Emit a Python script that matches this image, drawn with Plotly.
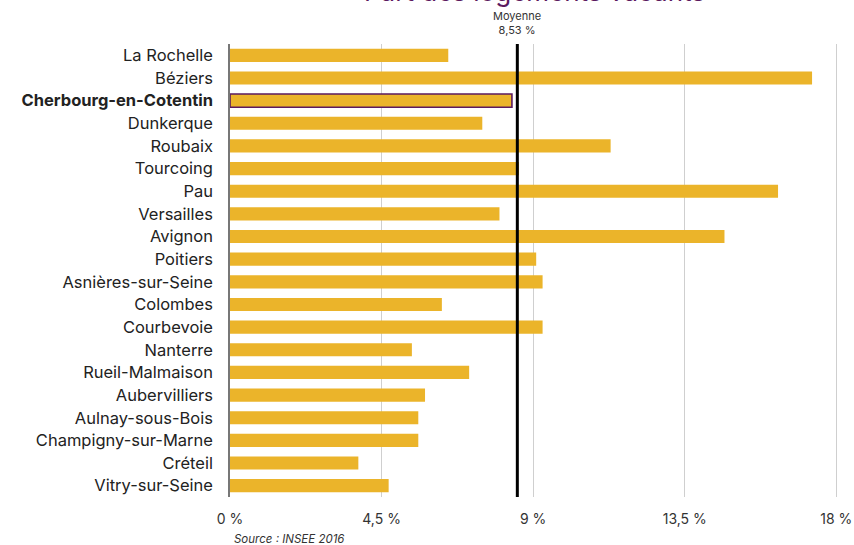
import plotly.graph_objects as go

# Share of vacant dwellings by city (INSEE 2016)
cities = [
    "La Rochelle", "Béziers", "Cherbourg-en-Cotentin", "Dunkerque", "Roubaix",
    "Tourcoing", "Pau", "Versailles", "Avignon", "Poitiers",
    "Asnières-sur-Seine", "Colombes", "Courbevoie", "Nanterre", "Rueil-Malmaison",
    "Aubervilliers", "Aulnay-sous-Bois", "Champigny-sur-Marne", "Créteil", "Vitry-sur-Seine",
]
vacancy_rate = [
    6.48, 17.28, 8.37, 7.49, 11.30,
    8.58, 16.27, 8.00, 14.68, 9.09,
    9.28, 6.29, 9.28, 5.40, 7.10,
    5.79, 5.59, 5.59, 3.81, 4.71,
]
highlight_city = "Cherbourg-en-Cotentin"
average_rate = 8.53

tick_values = [0, 4.5, 9, 13.5, 18]
tick_labels = ["0 %", "4,5 %", "9 %", "13,5 %", "18 %"]

W, H = 854, 545
M_L, M_R, M_T, M_B = 230, 16, 44, 48
FONT = "Inter"
GOLD = "#EBB42A"
PLUM = "#5B1A5F"


def py(pixel_y):
    """Convert a pixel row of the page to paper y."""
    return (H - M_B - pixel_y) / (H - M_T - M_B)


def px(pixel_x):
    """Convert a pixel column of the page to paper x."""
    return (pixel_x - M_L) / (W - M_L - M_R)


line_colors = [PLUM if c == highlight_city else GOLD for c in cities]
line_widths = [1.6 if c == highlight_city else 0 for c in cities]
y_text = [f"<b>{c}</b>" if c == highlight_city else c for c in cities]

fig = go.Figure(
    go.Bar(
        x=vacancy_rate,
        y=cities,
        orientation="h",
        width=0.58,
        marker=dict(color=GOLD, line=dict(color=line_colors, width=line_widths)),
        hoverinfo="skip",
    )
)

fig.add_shape(
    type="line", xref="x", yref="paper",
    x0=average_rate, x1=average_rate, y0=0, y1=1,
    line=dict(color="black", width=3),
)

fig.add_annotation(
    x=average_rate, xref="x", y=py(39), yref="paper",
    yanchor="bottom", xanchor="center", showarrow=False,
    text="Moyenne<br>8,53 %", align="center",
    font=dict(family=FONT, size=11, color="#333333"),
)
fig.add_annotation(
    x=px(534), xref="paper", y=py(9), yanchor="bottom", yref="paper",
    xanchor="center", showarrow=False,
    text="Part des logements vacants",
    font=dict(family=FONT, size=26, color=PLUM),
)
fig.add_annotation(
    x=px(232), xref="paper", xanchor="left", y=py(539), yref="paper",
    yanchor="middle", showarrow=False,
    text="<i>Source : INSEE 2016</i>",
    font=dict(family=FONT, size=11.5, color="#333333"),
)

fig.update_layout(
    width=W, height=H,
    margin=dict(l=M_L, r=M_R, t=M_T, b=M_B, pad=0, autoexpand=False),
    paper_bgcolor="white", plot_bgcolor="white",
    showlegend=False,
    font=dict(family=FONT, color="#222222"),
    bargap=0.42,
)
fig.update_xaxes(
    range=[0, 18.05], tickvals=tick_values, ticktext=tick_labels,
    automargin=False,
    showgrid=True, gridcolor="#CFCFCF", gridwidth=1,
    zeroline=False, showline=False,
    ticks="outside", ticklen=9, tickcolor="rgba(0,0,0,0)",
    tickfont=dict(family=FONT, size=14, color="#333333"),
)
fig.update_yaxes(
    autorange="reversed", tickvals=cities, ticktext=y_text,
    automargin=False,
    showgrid=False, showline=True, linecolor="#777777", linewidth=1.5,
    ticks="outside", ticklen=12, tickcolor="rgba(0,0,0,0)",
    tickfont=dict(family=FONT, size=16.5, color="#222222"),
)

fig.write_html("out.html")
